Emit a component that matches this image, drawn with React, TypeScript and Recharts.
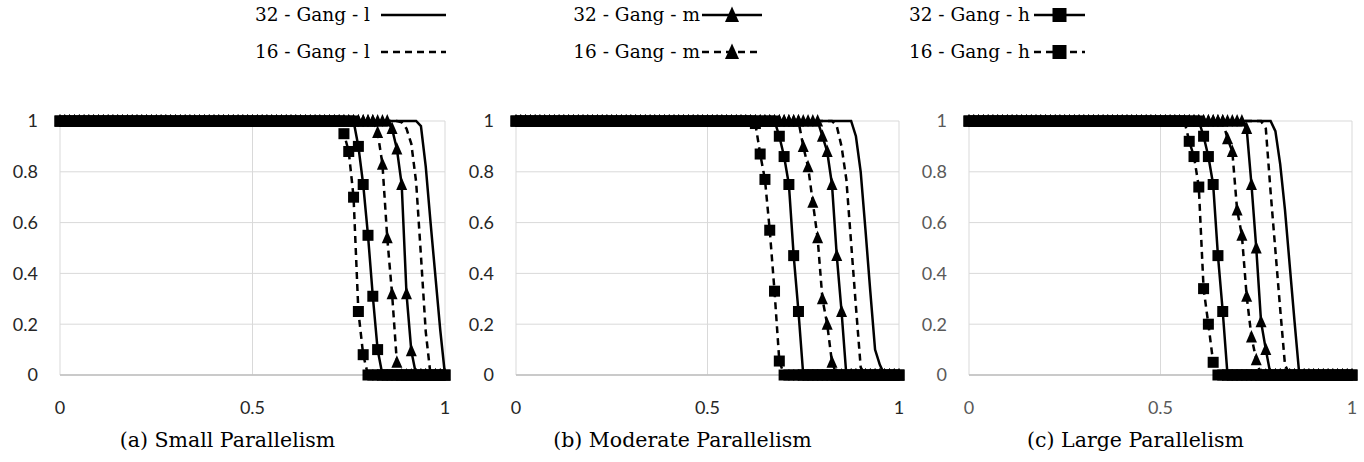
import React from "react"
import { LineChart, Line, XAxis, YAxis, CartesianGrid } from "recharts"

// sampling grid of the simulation: one point every 0.0125
const STEP = 0.0125
const xGrid = Array.from({ length: 81 }, (_, i) => i * STEP)

// each curve sits at 1 before `from`, follows `ys` from there, then stays at 0
type Curve = { from: number; ys: number[] }

// (a) small parallelism
const smallL32: Curve = { from: 0.9375, ys: [0.98, 0.82, 0.6, 0.39, 0.18, 0] }
const smallL16: Curve = { from: 0.8875, ys: [0.995, 0.97, 0.91, 0.76, 0.47, 0.17, 0] }
const smallM32: Curve = { from: 0.8625, ys: [0.97, 0.89, 0.75, 0.32, 0.095, 0] }
const smallM16: Curve = { from: 0.825, ys: [0.955, 0.83, 0.54, 0.32, 0.05, 0] }
const smallH32: Curve = { from: 0.775, ys: [0.9, 0.75, 0.55, 0.31, 0.1, 0] }
const smallH16: Curve = { from: 0.7375, ys: [0.95, 0.88, 0.7, 0.25, 0.08, 0] }

// (b) moderate parallelism
const modL32: Curve = { from: 0.8875, ys: [0.94, 0.8, 0.57, 0.33, 0.1, 0.04, 0] }
const modL16: Curve = { from: 0.8375, ys: [0.98, 0.9, 0.77, 0.52, 0.27, 0.03, 0] }
const modM32: Curve = { from: 0.8, ys: [0.94, 0.88, 0.75, 0.47, 0.25, 0] }
const modM16: Curve = { from: 0.75, ys: [0.9, 0.82, 0.68, 0.54, 0.3, 0.2, 0.05, 0] }
const modH32: Curve = { from: 0.6875, ys: [0.94, 0.86, 0.75, 0.47, 0.25, 0] }
const modH16: Curve = { from: 0.625, ys: [0.99, 0.87, 0.77, 0.57, 0.33, 0.055, 0] }

// (c) large parallelism
const largeL32: Curve = { from: 0.8, ys: [0.96, 0.83, 0.65, 0.43, 0.21, 0] }
const largeL16: Curve = { from: 0.775, ys: [0.97, 0.72, 0.49, 0.26, 0.04, 0] }
const largeM32: Curve = { from: 0.725, ys: [0.97, 0.75, 0.5, 0.21, 0.1, 0] }
const largeM16: Curve = { from: 0.675, ys: [0.93, 0.88, 0.65, 0.55, 0.31, 0.15, 0.06, 0] }
const largeH32: Curve = { from: 0.6125, ys: [0.94, 0.86, 0.75, 0.47, 0.25, 0] }
const largeH16: Curve = { from: 0.575, ys: [0.92, 0.86, 0.74, 0.34, 0.2, 0.05, 0] }

const xTicks = [0, 0.5, 1]
const yTicks = [0, 0.2, 0.4, 0.6, 0.8, 1]

const captions = ["(a) Small Parallelism", "(b) Moderate Parallelism", "(c) Large Parallelism"]

const legendRows = [
  ["32 - Gang - l", "32 - Gang - m", "32 - Gang - h"],
  ["16 - Gang - l", "16 - Gang - m", "16 - Gang - h"],
]

function expand(c: Curve) {
  return xGrid.map((x) => {
    const k = Math.round((x - c.from) / STEP)
    if (k < 0) return 1
    return k < c.ys.length ? c.ys[k] : 0
  })
}

function buildRows(set: Curve[]) {
  const cols = set.map(expand)
  return xGrid.map((x, i) => ({
    x,
    l32: cols[0][i],
    l16: cols[1][i],
    m32: cols[2][i],
    m16: cols[3][i],
    h32: cols[4][i],
    h16: cols[5][i],
  }))
}

const panels = [
  { left: 0, width: 455, tickColor: "#262626", rows: buildRows([smallL32, smallL16, smallM32, smallM16, smallH32, smallH16]) },
  { left: 456, width: 453, tickColor: "#262626", rows: buildRows([modL32, modL16, modM32, modM16, modH32, modH16]) },
  { left: 909, width: 453, tickColor: "#595959", rows: buildRows([largeL32, largeL16, largeM32, largeM16, largeH32, largeH16]) },
]

const DASH = "7 5"
const SERIF = "'DejaVu Serif', serif"
const SANS = "Lato, 'Open Sans', sans-serif"

function SquareDot(props: any) {
  const { cx, cy, size = 11 } = props
  if (cx == null || cy == null) return <g />
  const h = size / 2
  return <rect x={cx - h} y={cy - h} width={size} height={size} fill="#000" />
}

function TriangleDot(props: any) {
  const { cx, cy, size = 11 } = props
  if (cx == null || cy == null) return <g />
  const h = size / 2
  return <polygon points={`${cx},${cy - h - 1.5} ${cx + h},${cy + h} ${cx - h},${cy + h}`} fill="#000" />
}

function Panel({ rows, width, tickColor }: any) {
  const tick = { fill: tickColor, fontSize: 18, fontFamily: SANS }
  return (
    <LineChart width={width} height={320} data={rows} margin={{ top: 21, right: 10, bottom: 15, left: 20 }}>
      <CartesianGrid stroke="#d9d9d9" />
      <XAxis
        type="number"
        dataKey="x"
        domain={[0, 1]}
        ticks={xTicks}
        tickFormatter={(v: number) => String(v)}
        axisLine={{ stroke: "#bfbfbf", strokeWidth: 1.5 }}
        tickLine={false}
        tickSize={0}
        tickMargin={26}
        tick={tick}
      />
      <YAxis
        type="number"
        domain={[0, 1]}
        ticks={yTicks}
        tickFormatter={(v: number) => String(v)}
        axisLine={false}
        tickLine={false}
        tickSize={0}
        tickMargin={22}
        width={40}
        tick={tick}
      />
      <Line type="linear" dataKey="l32" stroke="#000" strokeWidth={2.5} dot={false} isAnimationActive={false} />
      <Line type="linear" dataKey="l16" stroke="#000" strokeWidth={2.5} strokeDasharray={DASH} dot={false} isAnimationActive={false} />
      <Line type="linear" dataKey="m32" stroke="#000" strokeWidth={2.5} dot={<TriangleDot />} isAnimationActive={false} />
      <Line type="linear" dataKey="m16" stroke="#000" strokeWidth={2.5} strokeDasharray={DASH} dot={<TriangleDot />} isAnimationActive={false} />
      <Line type="linear" dataKey="h32" stroke="#000" strokeWidth={2.5} dot={<SquareDot />} isAnimationActive={false} />
      <Line type="linear" dataKey="h16" stroke="#000" strokeWidth={2.5} strokeDasharray={DASH} dot={<SquareDot />} isAnimationActive={false} />
    </LineChart>
  )
}

// legend geometry: text end, sample start/end, marker kind
const legendCols = [
  { textEnd: 370, x1: 381, x2: 446, mark: "" },
  { textEnd: 700, x1: 702, x2: 762, mark: "tri" },
  { textEnd: 1030, x1: 1034, x2: 1085, mark: "sq" },
]
const legendY = [15, 52]

function Legend() {
  return (
    <svg width={1364} height={80} style={{ position: "absolute", left: 0, top: 0 }}>
      {legendRows.map((row, r) =>
        row.map((label, c) => {
          const col = legendCols[c]
          const y = legendY[r]
          const mx = (col.x1 + col.x2) / 2
          return (
            <g key={label}>
              <text x={col.textEnd} y={y + 6} textAnchor="end" fontFamily={SERIF} fontSize={18.5} fill="#000">
                {label}
              </text>
              <line x1={col.x1} x2={col.x2} y1={y} y2={y} stroke="#000" strokeWidth={2.5} strokeDasharray={r === 1 ? DASH : undefined} />
              {col.mark === "tri" && <TriangleDot cx={mx} cy={y} size={14} />}
              {col.mark === "sq" && <SquareDot cx={mx} cy={y} size={14} />}
            </g>
          )
        })
      )}
    </svg>
  )
}

export default function App() {
  return (
    <div style={{ position: "absolute", left: 0, top: 0, width: 1364, height: 462, background: "#fff" }}>
      <Legend />
      {panels.map((p, i) => (
        <div key={i} style={{ position: "absolute", left: p.left, top: 100 }}>
          <Panel rows={p.rows} width={p.width} tickColor={p.tickColor} />
        </div>
      ))}
      <svg width={1364} height={462} style={{ position: "absolute", left: 0, top: 0, pointerEvents: "none" }}>
        {panels.map((p, i) => (
          <text key={i} x={p.left + p.width / 2} y={447} textAnchor="middle" fontFamily={SERIF} fontSize={20.5} fill="#000">
            {captions[i]}
          </text>
        ))}
      </svg>
    </div>
  )
}
